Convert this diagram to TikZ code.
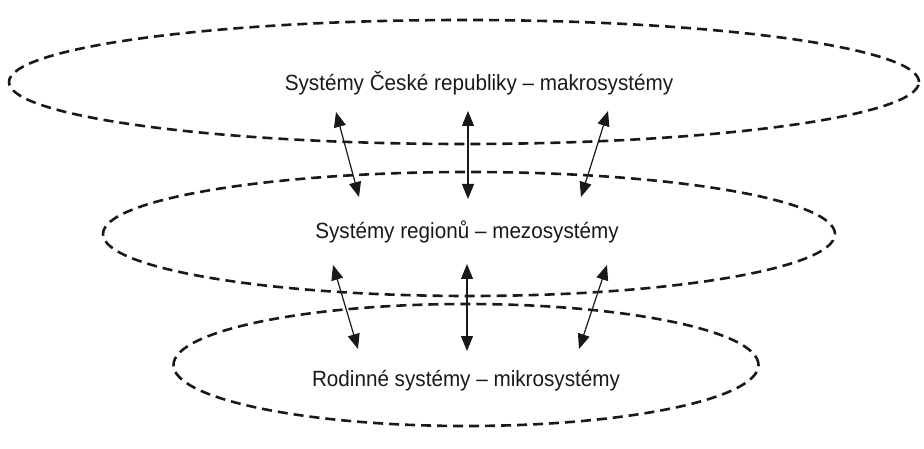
\documentclass[tikz,border=0pt]{standalone}
\usepackage{fontspec}
\setmainfont{Liberation Sans}
\newfontfamily\levfont[FakeStretch=0.94]{Liberation Sans}
\usetikzlibrary{shapes.geometric, arrows.meta, calc}

\begin{document}
\begin{tikzpicture}[
        x=1pt, y=-1pt,
        % --- styly ---
        level/.style={
                ellipse,
                draw=black!90,
                line width=2.6pt,
                dash pattern=on 10pt off 6pt,
                inner sep=0pt
            },
        levtext/.style={
                font=\levfont\fontsize{22}{26}\selectfont,
                text=black!90
            },
        link/.style={
                {Triangle[length=15pt,width=12pt]}-{Triangle[length=15pt,width=12pt]},
                line width=1.2pt,
                black!90
            }
    ]
    \useasboundingbox (0,0) rectangle (924,449);

    % 1. Elipsy (úrovně)
    \node[level, minimum width=910pt, minimum height=124pt] (makro) at (464,82) {};
    \node[level, minimum width=732pt, minimum height=124pt] (mezo) at (469,234) {};
    \node[level, minimum width=585pt, minimum height=122pt] (mikro) at (466,365) {};

    % 2. Popisky
    \node[levtext] (tmakro) at (479,83) {Systémy České republiky – makrosystémy};
    \node[levtext] (tmezo) at ($(mezo.center)+(-2,-2)$) {Systémy regionů – mezosystémy};
    \node[levtext] (tmikro) at ($(mikro.center)+(0,16)$) {Rodinné systémy – mikrosystémy};

    % 3. Body šipek
    \coordinate (a1) at (336,112);  \coordinate (b1) at (359,197);
    \coordinate (a2) at (468,111);  \coordinate (b2) at (468,199);
    \coordinate (a3) at (608,111);  \coordinate (b3) at (581,197);
    \coordinate (c1) at (333,265);  \coordinate (d1) at (358,349);
    \coordinate (c2) at (467,264);  \coordinate (d2) at (467,351);
    \coordinate (c3) at (607,265);  \coordinate (d3) at (579,349);

    % 4. Šipky mezi úrovněmi
    \foreach \i in {1,2,3} {
        \draw[link] (a\i) -- (b\i);
        \draw[link] (c\i) -- (d\i);
    }

\end{tikzpicture}
\end{document}
